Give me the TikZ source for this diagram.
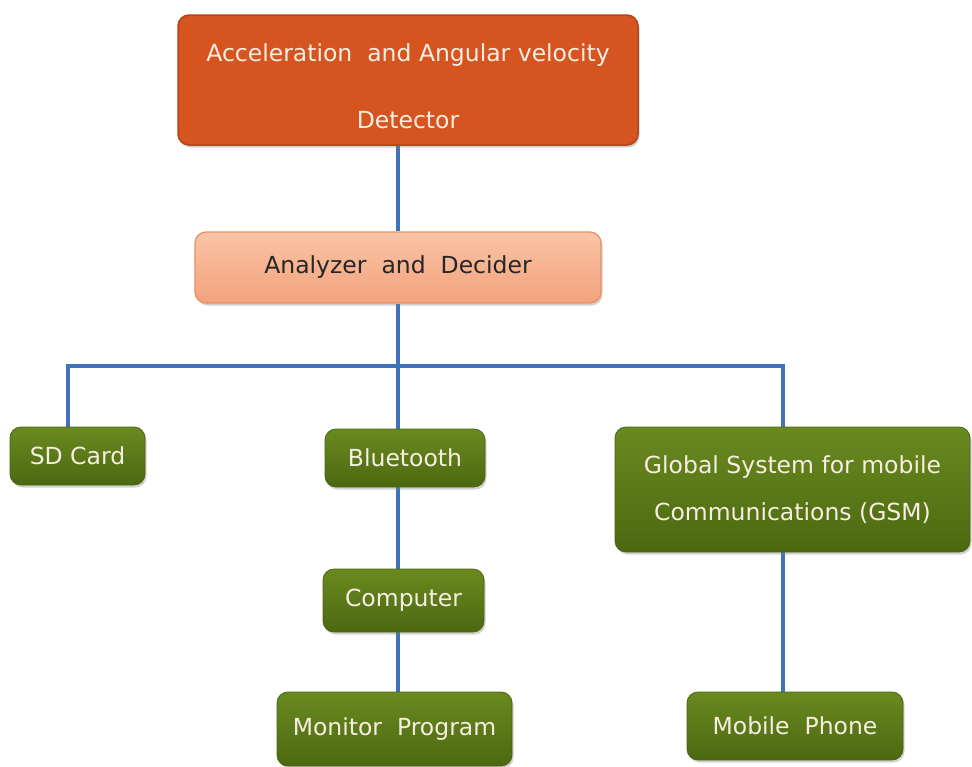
\documentclass[tikz,border=0pt]{standalone}
\usepackage{fontspec}
\setmainfont{DejaVu Sans}
\usetikzlibrary{shadows,backgrounds}
\definecolor{linkblue}{HTML}{3F72B8}
\definecolor{orangefill}{HTML}{D65420}
\definecolor{orangeedge}{HTML}{B5441A}
\definecolor{salmontop}{HTML}{FBC4A6}
\definecolor{salmonbot}{HTML}{F2A27C}
\definecolor{salmonedge}{HTML}{E98F64}
\definecolor{greentop}{HTML}{6A8A20}
\definecolor{greenbot}{HTML}{4C6810}
\definecolor{greenedge}{HTML}{4A6412}
\definecolor{lighttext}{HTML}{F6EEE2}
\tikzset{
  box/.style={rounded corners=11pt, align=center, inner sep=0pt,
    font=\fontsize{23.5}{47}\selectfont,
    drop shadow={shadow xshift=1.5pt, shadow yshift=-2.5pt, opacity=0.35}},
  topbox/.style={box, fill=orangefill, draw=orangeedge, line width=1.5pt,
    text=lighttext, font=\fontsize{23.5}{67}\selectfont},
  midbox/.style={box, top color=salmontop, bottom color=salmonbot,
    draw=salmonedge, line width=1.2pt, text=black!85},
  leafbox/.style={box, top color=greentop, bottom color=greenbot,
    draw=greenedge, line width=0.8pt, text=lighttext},
  link/.style={draw=linkblue, line width=3.5pt}
}
\begin{document}
\begin{tikzpicture}[x=1pt, y=-1pt]
\useasboundingbox (0,0) rectangle (972,766);

\node[topbox, minimum width=460pt, minimum height=130pt] (top) at (408,80)
  {\rule{0pt}{30pt}Acceleration\ \ and Angular velocity\\Detector};
\node[midbox, minimum width=406pt, minimum height=71pt] (ana) at (398,267.5)
  {Analyzer\ \ and\ \ Decider};
\node[leafbox, minimum width=135pt, minimum height=58pt] (sd) at (77.5,456) {SD Card};
\node[leafbox, minimum width=160pt, minimum height=58pt] (bt) at (405,458) {Bluetooth};
\node[leafbox, minimum width=355pt, minimum height=125pt] (gsm) at (792.5,489.5)
  {Global System for mobile\\Communications (GSM)};
\node[leafbox, minimum width=161pt, minimum height=63pt] (pc) at (403.5,600.5) {Computer};
\node[leafbox, minimum width=235pt, minimum height=74pt] (mon) at (394.5,729) {Monitor\ \ Program};
\node[leafbox, minimum width=216pt, minimum height=68pt] (mob) at (795,726) {Mobile\ \ Phone};

% junction points of the distribution bus
\coordinate (j)  at (398,366);
\coordinate (jl) at (68,366);
\coordinate (jr) at (783,366);

\begin{scope}[on background layer]
  \fill[white] (0,0) rectangle (972,766);
  \path[link] (top.south -| j) -- (ana.north -| j);
  \path[link] (ana.south -| j) -- (j) -- (bt.north -| j);
  \path[link] (sd.north -| jl) -- (jl) -- (jr) -- (gsm.north -| jr);
  \path[link] (bt.south -| j) -- (pc.north -| j);
  \path[link] (pc.south -| j) -- (mon.north -| j);
  \path[link] (gsm.south -| jr) -- (mob.north -| jr);
\end{scope}
\end{tikzpicture}
\end{document}
